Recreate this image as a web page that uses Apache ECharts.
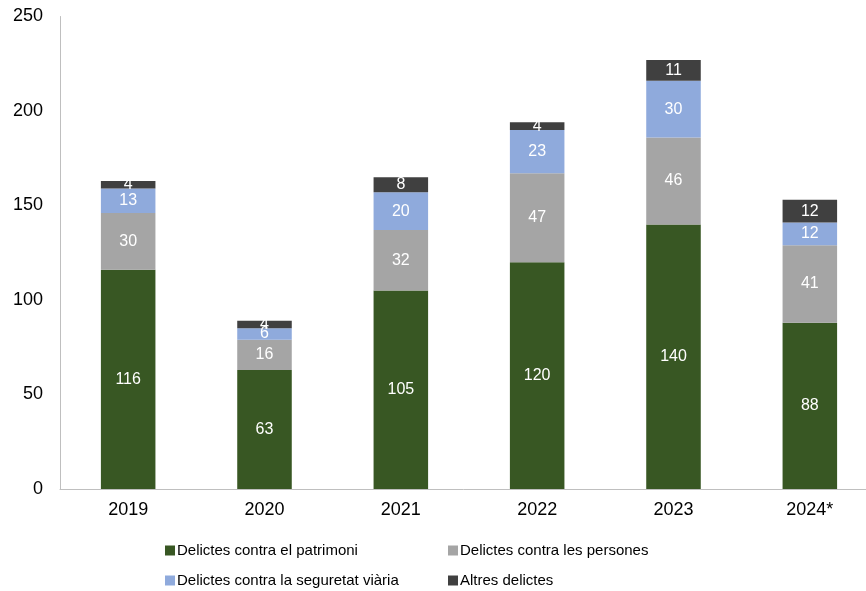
<!DOCTYPE html>
<html>
<head>
<meta charset="utf-8">
<script src="https://cdn.jsdelivr.net/npm/echarts@6/dist/echarts.min.js"></script>
<style>html,body{margin:0;padding:0;background:#fff;}#c{width:866px;height:591px;}</style>
</head>
<body>
<div id="c"></div>
<script>
const categories = ['2019', '2020', '2021', '2022', '2023', '2024*'];
const patrimoni = [116, 63, 105, 120, 140, 88];
const persones = [30, 16, 32, 47, 46, 41];
const seguretat = [13, 6, 20, 23, 30, 12];
const altres = [4, 4, 8, 4, 11, 12];
const seriesNames = ['Delictes contra el patrimoni', 'Delictes contra les persones', 'Delictes contra la seguretat viària', 'Altres delictes'];
const colors = ['#385723', '#A5A5A5', '#8FAADC', '#404040'];
const yTicks = { min: 0, max: 250, interval: 50 };

const chart = echarts.init(document.getElementById('c'));
const font = 'Liberation Sans, Arial, sans-serif';
const datasets = [patrimoni, persones, seguretat, altres];
const series = datasets.map((d, i) => ({
  name: seriesNames[i],
  type: 'bar',
  stack: 'total',
  barWidth: '40%',
  data: d,
  itemStyle: { color: colors[i] },
  label: { show: true, position: 'inside', color: '#fff', fontSize: 16, fontFamily: font },
  emphasis: { disabled: true }
}));
const legendPos = [
  { left: 165, top: 543 },
  { left: 448, top: 543 },
  { left: 165, top: 573 },
  { left: 448, top: 573 }
];
const legends = seriesNames.map((n, i) => ({
  data: [n],
  left: legendPos[i].left,
  top: legendPos[i].top,
  itemWidth: 10,
  itemHeight: 10,
  itemGap: 0,
  icon: 'rect',
  padding: 0,
  textStyle: { fontSize: 15, color: '#000', fontFamily: font, padding: [0, 0, 0, -3] }
}));
chart.setOption({
  animation: false,
  grid: { left: 60, right: -12, top: 16.5, bottom: 102, containLabel: false, outerBoundsMode: 'none' },
  legend: legends,
  xAxis: {
    type: 'category',
    data: categories,
    axisLine: { lineStyle: { color: '#BFBFBF', width: 1 } },
    axisTick: { show: false },
    axisLabel: { color: '#000', fontSize: 18, fontFamily: font, margin: 12 }
  },
  yAxis: {
    type: 'value',
    min: yTicks.min, max: yTicks.max, interval: yTicks.interval,
    axisLine: { show: true, lineStyle: { color: '#BFBFBF', width: 1 } },
    axisTick: { show: false },
    splitLine: { show: false },
    axisLabel: { color: '#000', fontSize: 18, fontFamily: font, margin: 17 }
  },
  series: series
});
</script>
</body>
</html>
